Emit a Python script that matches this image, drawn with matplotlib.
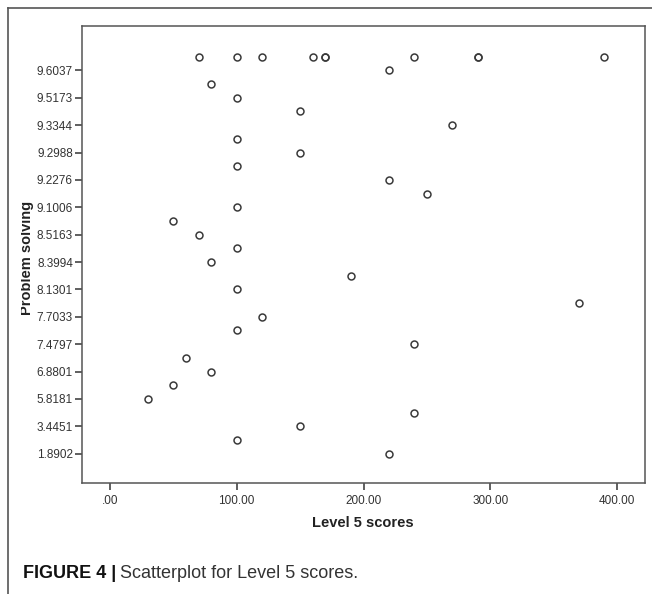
import matplotlib.pyplot as plt
from matplotlib.lines import Line2D
from matplotlib.patches import Rectangle

# y axis: 30 ordered categories of "Problem solving", only every second one is labelled
tick_labels = ['1.8902', '3.4451', '5.8181', '6.8801', '7.4797', '7.7033', '8.1301',
               '8.3994', '8.5163', '9.1006', '9.2276', '9.2988', '9.3344', '9.5173', '9.6037']
n_categories = 30

# category position (0 = lowest) and the Level 5 score of each case
problem_rank = [29, 29, 29, 29, 29, 29, 29, 29, 29, 29,
                28, 27, 26, 25, 24, 23, 22, 21, 20, 19,
                18, 17, 16, 15, 14, 13, 12, 11, 10, 9,
                8, 7, 6, 5, 4, 3, 2, 1, 0]
level5_scores = [70, 100, 120, 160, 170, 170, 240, 290, 290, 390,
                 220, 80, 100, 150, 270, 100, 150, 100, 220, 250,
                 100, 50, 70, 100, 80, 190, 100, 370, 120, 100,
                 240, 60, 80, 50, 30, 240, 150, 100, 220]
x_ticks = [0, 100, 200, 300, 400]
x_tick_labels = ['.00', '100.00', '200.00', '300.00', '400.00']

plt.rcParams['font.family'] = ['Liberation Sans', 'DejaVu Sans']

fig = plt.figure(figsize=(6.52, 5.94), dpi=100)
ax = fig.add_axes([82 / 652, 1 - 483 / 594, (645 - 82) / 652, (483 - 26) / 594])

ax.plot(level5_scores, problem_rank, linestyle='none', marker='o', markersize=5,
        markerfacecolor='none', markeredgecolor='#3a3a3a', markeredgewidth=1.1)

ax.set_xlim(-22, 422)
ax.set_ylim(-2.14, n_categories - 1 + 2.24)
ax.set_xticks(x_ticks)
ax.set_xticklabels(x_tick_labels)
ax.set_yticks(range(0, n_categories, 2))
ax.set_yticklabels(tick_labels)
ax.tick_params(axis='both', direction='out', length=5, width=1.2, color='#444444',
               labelsize=8.5, labelcolor='#333333', pad=1.5)
ax.tick_params(axis='x', pad=4)
for s in ax.spines.values():
    s.set_color('#555555')
    s.set_linewidth(1.1)

fig.text(363 / 652, 1 - 523 / 594, 'Level 5 scores', ha='center', va='center',
         fontsize=10.5, fontweight='bold', color='#222222')

fig.text(27 / 652, 1 - 258 / 594, 'Problem solving', rotation=90, ha='center',
         va='center', fontsize=10.5, fontweight='bold', color='#222222', zorder=3)
# the original crops the tops of the y label letters
fig.add_artist(Rectangle((9 / 652, 1 - 335 / 594), 12 / 652, 150 / 594,
                         facecolor='white', edgecolor='none', zorder=4))

# frame of the figure panel (top and left edge only)
fig.add_artist(Line2D([7.5 / 652, 7.5 / 652], [0, 1 - 8 / 594], color='#555555', lw=1.2, zorder=5))
fig.add_artist(Line2D([7.5 / 652, 1], [1 - 8 / 594, 1 - 8 / 594], color='#555555', lw=1.2, zorder=5))

cap = fig.text(23 / 652, 1 - 573 / 594, 'FIGURE 4 |', ha='left', va='center',
               fontsize=13, fontweight='bold', color='#111111')
fig.canvas.draw()
bb = cap.get_window_extent()
fig.text((bb.x1 + 4) / 652, 1 - 573 / 594, 'Scatterplot for Level 5 scores.', ha='left',
         va='center', fontsize=13, color='#333333')

fig.savefig('out.png', dpi=100)
